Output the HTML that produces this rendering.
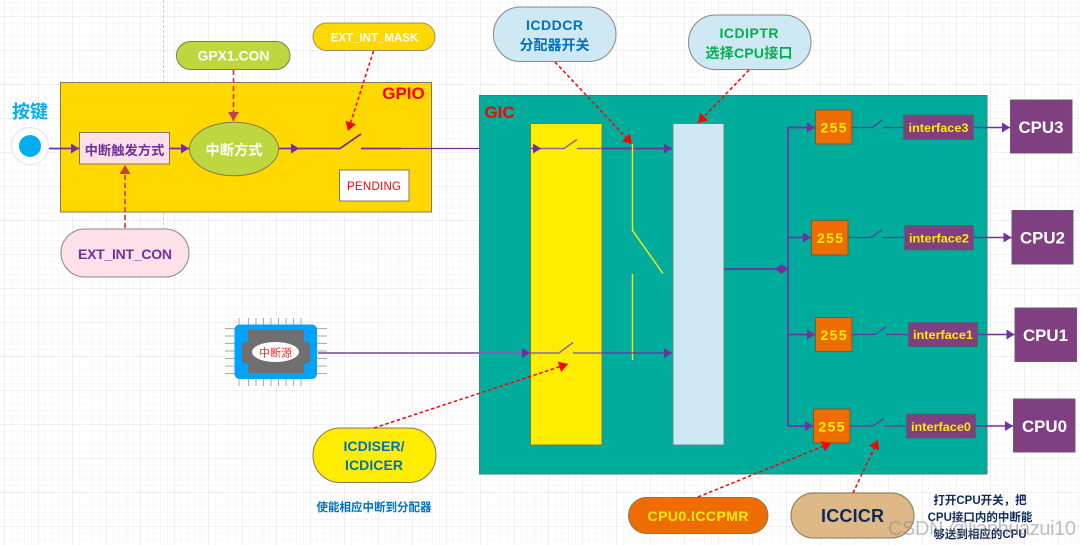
<!DOCTYPE html>
<html><head><meta charset="utf-8">
<style>
html,body{margin:0;padding:0;background:#fff;width:1080px;height:545px;overflow:hidden}
svg{display:block}
text{font-family:"Liberation Sans","Noto Sans CJK SC",sans-serif;font-weight:bold;text-anchor:middle}
</style></head><body>
<svg width="1080" height="545" viewBox="0 0 1080 545" xmlns="http://www.w3.org/2000/svg">
<defs>
<pattern id="minor" width="6.8" height="6.8" x="4" y="16" patternUnits="userSpaceOnUse"><path d="M0 0H6.8M0 0V6.8" stroke="#f1f1f1" stroke-width="1" fill="none"/></pattern>
<pattern id="major" width="34" height="34" x="4" y="16" patternUnits="userSpaceOnUse"><path d="M0 0H34M0 0V34" stroke="#e2e2e2" stroke-width="1" fill="none"/></pattern>
<marker id="p" markerUnits="userSpaceOnUse" markerWidth="11" markerHeight="11" refX="8" refY="5" orient="auto"><path d="M0 0L8 5L0 10Z" fill="#7030a0"/></marker>
<marker id="r" markerUnits="userSpaceOnUse" markerWidth="12" markerHeight="12" refX="9" refY="5.500" orient="auto"><path d="M0 0L9 5.500L0 11Z" fill="#ff0000"/></marker>
<marker id="d" markerUnits="userSpaceOnUse" markerWidth="12" markerHeight="12" refX="9" refY="5.500" orient="auto"><path d="M0 0L9 5.500L0 11Z" fill="#c8403f"/></marker>
</defs>
<rect width="1080" height="545" fill="#fff"/>
<rect width="1080" height="545" fill="url(#minor)"/>
<rect width="1080" height="545" fill="url(#major)"/>
<path d="M163.500 0V82M163.500 212V228" stroke="#c9c9c9" stroke-dasharray="3 2" fill="none"/>

<!-- GPIO -->
<rect x="60.500" y="82.500" width="371" height="129.500" fill="#ffd800" stroke="#85785a"/>
<text x="403.500" y="99" font-size="17" fill="#ff0000">GPIO</text>
<circle cx="30" cy="146" r="18.500" fill="#fff" stroke="#e4e4e4"/>
<circle cx="30" cy="146" r="11" fill="#00aeef"/>
<text x="30" y="118" font-size="18" fill="#00aeef">按键</text>
<path d="M49 148.500H79" stroke="#7030a0" stroke-width="1.700" marker-end="url(#p)"/>
<rect x="79.500" y="132.500" width="90" height="31.500" fill="#fde0e8" stroke="#85785a"/>
<text x="124.500" y="155" font-size="13.300" fill="#7030a0">中断触发方式</text>
<path d="M169.500 148.500H189" stroke="#7030a0" stroke-width="1.700" marker-end="url(#p)"/>
<ellipse cx="234" cy="149" rx="44.500" ry="26.800" fill="#bfd73f" stroke="#85785a"/>
<text x="234" y="155" font-size="14.300" fill="#fff">中断方式</text>
<path d="M279 148.500H299" stroke="#7030a0" stroke-width="1.700" marker-end="url(#p)"/>
<path d="M299 148.500H340L361 134" stroke="#7030a0" stroke-width="1.700" fill="none"/>
<path d="M361 148.500H401" stroke="#7030a0" stroke-width="1.700" fill="none"/>
<path d="M401 148.500H538" stroke="#7030a0" stroke-width="1.200" marker-end="url(#p)"/>
<rect x="339.500" y="170" width="69.500" height="31" fill="#fff" stroke="#85785a"/>
<text x="374" y="190" font-size="11.500" fill="#ff0000" style="font-weight:normal" textLength="54">PENDING</text>

<!-- top pills -->
<rect x="176.500" y="41.500" width="113.500" height="28" rx="14" fill="#bfd73f" stroke="#85785a"/>
<text x="233.500" y="60.500" font-size="14" fill="#fff" textLength="72">GPX1.CON</text>
<rect x="313" y="23" width="122" height="27.500" rx="13.700" fill="#ffd800" stroke="#99906a"/>
<text x="374.500" y="41.500" font-size="11.500" fill="#fff">EXT_INT_MASK</text>
<rect x="61" y="229" width="128" height="48" rx="24" fill="#fde0e8" stroke="#888"/>
<text x="125" y="259" font-size="14" fill="#7030a0" textLength="94">EXT_INT_CON</text>
<path d="M233.500 70V121" stroke="#c8403f" stroke-width="1.700" stroke-dasharray="5 3" marker-end="url(#d)"/>
<path d="M125 228V165" stroke="#c8403f" stroke-width="1.700" stroke-dasharray="5 3" marker-end="url(#d)"/>
<path d="M373.500 51L348 131" stroke="#ff0000" stroke-width="1.500" stroke-dasharray="3.500 2.500" marker-end="url(#r)"/>

<!-- GIC -->
<rect x="479.500" y="95.500" width="507.500" height="378.500" fill="#00ad9c" stroke="#3f7f79"/>
<text x="499.500" y="118" font-size="17" fill="#ff0000">GIC</text>
<rect x="530.500" y="123.500" width="71.500" height="321.500" fill="#ffed00" stroke="#6f7a4f"/>
<rect x="673" y="123.500" width="51" height="321.500" fill="#cee8f4" stroke="#5c8a8a"/>
<path d="M532 148.500H564L577 139.500M577 148.500H602" stroke="#8c6aa0" stroke-width="1.500" fill="none"/>
<path d="M602 148.500H672" stroke="#7030a0" stroke-width="1.700" marker-end="url(#p)"/>
<path d="M530.500 148.500 L541 148.500" stroke="#7030a0" stroke-width="1.200" marker-end="url(#p)"/>
<path d="M632.500 144V230.500L663 273.500M632.500 274V360" stroke="#ffed00" stroke-width="1.400" fill="none"/>
<path d="M318 353H530" stroke="#8a5fb0" stroke-width="1.700" marker-end="url(#p)"/>
<path d="M530 353H559L573 342.500M573 353H602" stroke="#8c6aa0" stroke-width="1.500" fill="none"/>
<path d="M602 353H672" stroke="#7030a0" stroke-width="1.300" marker-end="url(#p)"/>

<!-- bus -->
<path d="M724 269H788" stroke="#6a35a5" stroke-width="1.700"/>
<path d="M775 269L781.500 264L788 269L781.500 274Z" fill="#7030a0"/>
<path d="M788 127V426" stroke="#6a35a5" stroke-width="1.700" fill="none"/>
<path d="M788 127.500H815" stroke="#6a35a5" stroke-width="1.700" marker-end="url(#p)"/>
<path d="M788 237.500H811" stroke="#6a35a5" stroke-width="1.700" marker-end="url(#p)"/>
<path d="M788 334.500H815" stroke="#6a35a5" stroke-width="1.700" marker-end="url(#p)"/>
<path d="M788 426H813" stroke="#6a35a5" stroke-width="1.700" marker-end="url(#p)"/>

<!-- 255 boxes -->
<g fill="#ef6c00" stroke="#7a5a30">
<rect x="815.500" y="110" width="36.500" height="34"/>
<rect x="811.500" y="220.500" width="36.500" height="34.500"/>
<rect x="815.500" y="317.500" width="36.500" height="34"/>
<rect x="813.500" y="409" width="36.500" height="34"/>
</g>
<g font-size="14" fill="#ffed00">
<text x="833.500" y="132.500" textLength="26">255</text>
<text x="830" y="243" textLength="26">255</text>
<text x="833.500" y="340" textLength="26">255</text>
<text x="831.500" y="431.500" textLength="26">255</text>
</g>
<!-- switches -->
<g stroke="#7030a0" stroke-width="1.300" fill="none">
<path d="M852 127.500H872.500L882 120M883 127.500H903.500"/>
<path d="M848 237.500H871L882 230M882 237.500H904.500"/>
<path d="M852 334.500H875L885.500 327M886 334.500H908.500"/>
<path d="M850 426H873L884 418.500M884 426H906.500"/>
</g>
<!-- interface -->
<g fill="#7f3f80" stroke="#3f6f70">
<rect x="903.500" y="115" width="70" height="24.500"/>
<rect x="904.500" y="225.500" width="69" height="24.500"/>
<rect x="908.500" y="322.500" width="69" height="24"/>
<rect x="906.500" y="414" width="69" height="24"/>
</g>
<g font-size="12" fill="#ffed00">
<text x="938.500" y="132" textLength="60" lengthAdjust="spacingAndGlyphs">interface3</text>
<text x="939" y="242.500" textLength="60" lengthAdjust="spacingAndGlyphs">interface2</text>
<text x="943" y="339" textLength="60" lengthAdjust="spacingAndGlyphs">interface1</text>
<text x="941" y="431" textLength="60" lengthAdjust="spacingAndGlyphs">interface0</text>
</g>
<g stroke="#7030a0" stroke-width="1.500">
<path d="M973.500 127.500H1010" marker-end="url(#p)"/>
<path d="M973.500 237.500H1011.500" marker-end="url(#p)"/>
<path d="M977.500 334.500H1014.500" marker-end="url(#p)"/>
<path d="M975.500 426H1013" marker-end="url(#p)"/>
</g>
<!-- CPU -->
<g fill="#7f3f80" stroke="#6a5a70">
<rect x="1010.500" y="100" width="61.500" height="53"/>
<rect x="1012" y="210.500" width="61" height="53.500"/>
<rect x="1015" y="308" width="61.500" height="53.500"/>
<rect x="1013.500" y="399" width="61.500" height="53"/>
</g>
<g font-size="17" fill="#fff">
<text x="1041" y="133" textLength="45" lengthAdjust="spacingAndGlyphs">CPU3</text>
<text x="1042.500" y="243.500" textLength="45" lengthAdjust="spacingAndGlyphs">CPU2</text>
<text x="1045.500" y="341" textLength="45" lengthAdjust="spacingAndGlyphs">CPU1</text>
<text x="1044.500" y="432" textLength="45" lengthAdjust="spacingAndGlyphs">CPU0</text>
</g>

<!-- pills -->
<rect x="493.500" y="7" width="122.500" height="54.500" rx="27" fill="#cee8f4" stroke="#888"/>
<text x="554.500" y="30" font-size="14" fill="#0070c0" textLength="57">ICDDCR</text>
<text x="554.500" y="50" font-size="14" fill="#0070c0">分配器开关</text>
<rect x="688.500" y="15" width="122.500" height="54.500" rx="27" fill="#cee8f4" stroke="#888"/>
<text x="749" y="38" font-size="14" fill="#00b050" textLength="59">ICDIPTR</text>
<text x="749" y="58" font-size="14" fill="#00b050" textLength="87">选择CPU接口</text>
<path d="M555 62L632 144" stroke="#ff0000" stroke-width="1.500" stroke-dasharray="3.500 2.500" marker-end="url(#r)"/>
<path d="M749 70L698 123" stroke="#ff0000" stroke-width="1.500" stroke-dasharray="3.500 2.500" marker-end="url(#r)"/>

<rect x="313" y="428" width="123" height="54.500" rx="27" fill="#ffed00" stroke="#85785a"/>
<text x="374" y="451" font-size="14" fill="#0070c0" textLength="61">ICDISER/</text>
<text x="374" y="470" font-size="14" fill="#0070c0" textLength="58">ICDICER</text>
<text x="374" y="511" font-size="11.500" fill="#0070c0">使能相应中断到分配器</text>
<path d="M374 428L568 364" stroke="#ff0000" stroke-width="1.500" stroke-dasharray="3.500 2.500" marker-end="url(#r)"/>

<rect x="628.500" y="497.500" width="139.500" height="36" rx="18" fill="#ef6c00" stroke="#85785a"/>
<text x="698" y="521" font-size="14" fill="#ffed00" textLength="101">CPU0.ICCPMR</text>
<path d="M698 497L831 443" stroke="#ff0000" stroke-width="1.500" stroke-dasharray="3.500 2.500" marker-end="url(#r)"/>

<rect x="791" y="493" width="123" height="45" rx="22.500" fill="#deb887" stroke="#85785a"/>
<text x="852.500" y="522" font-size="18" fill="#10295c" textLength="63">ICCICR</text>
<path d="M853 493L878 440" stroke="#ff0000" stroke-width="1.500" stroke-dasharray="3.500 2.500" marker-end="url(#r)"/>
<g font-size="11.500" fill="#10295c">
<text x="980" y="504">打开CPU开关，把</text>
<text x="980" y="521">CPU接口内的中断能</text>
<text x="980" y="538">够送到相应的CPU</text>
</g>
<text x="982" y="535" font-size="20" fill="#8a8a8a" fill-opacity=".55" style="font-weight:normal" textLength="188">CSDN @lianhuazui10</text>

<!-- chip -->
<g stroke="#aaa" stroke-width="1" fill="none">
<path d="M248.500 318V386M256 318V386M263.500 318V386M271 318V386M278.500 318V386M286 318V386M293.500 318V386M301 318V386M239 318V386"/>
<path d="M225 328.500H327M225 336H327M225 343.500H327M225 351H327M225 358.500H327M225 366H327M225 373.500H327"/>
</g>
<rect x="234.500" y="324.500" width="82.500" height="54.500" rx="5" fill="#00a2ff"/>
<path d="M248 330H304V341L310 343V362L304 364V373H248V364L242 362V343L248 341Z" fill="#6f6f6f"/>
<ellipse cx="275.500" cy="352" rx="23.500" ry="10" fill="#fff"/>
<text x="275.500" y="356.500" font-size="11" fill="#ff2a2a" style="font-weight:normal">中断源</text>
</svg>
</body></html>
